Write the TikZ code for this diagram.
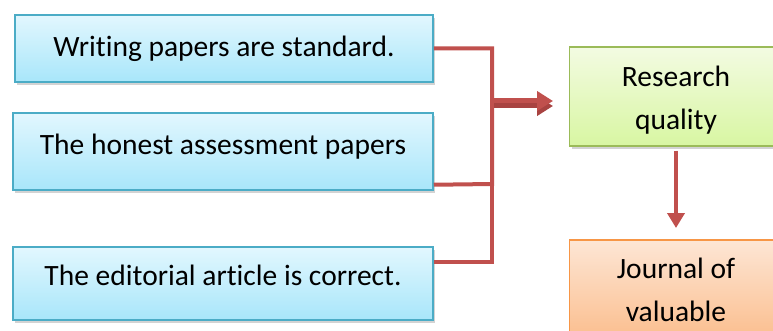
\documentclass[tikz,border=0pt]{standalone}
\usepackage{fontspec}
\setmainfont{Carlito}[Ligatures=NoCommon]
\usetikzlibrary{arrows.meta,shadows}
\definecolor{linkred}{HTML}{C0504D}
\definecolor{linkdark}{HTML}{A84341}
\definecolor{bluedraw}{HTML}{4BACC6}
\definecolor{bluetop}{HTML}{E2F7FE}
\definecolor{bluebot}{HTML}{A8E6FA}
\definecolor{greendraw}{HTML}{9BBB59}
\definecolor{greentop}{HTML}{F3FBE2}
\definecolor{greenbot}{HTML}{D8F6A2}
\definecolor{orangedraw}{HTML}{F79646}
\definecolor{orangetop}{HTML}{FDE6D5}
\definecolor{orangebot}{HTML}{FBBE8E}
\tikzset{
  box/.style={draw,line width=1.5pt,align=center,inner sep=0pt,
    font=\fontsize{29.5}{43}\selectfont,
    drop shadow={opacity=0.35,shadow xshift=2pt,shadow yshift=-3pt}},
  bluebox/.style={box,draw=bluedraw,top color=bluetop,bottom color=bluebot},
  greenbox/.style={box,draw=greendraw,top color=greentop,bottom color=greenbot},
  orangebox/.style={box,draw=orangedraw,top color=orangetop,bottom color=orangebot},
  link/.style={draw=linkred,line width=4pt},
  bigarrow/.style={link,line width=5pt,-{Triangle[length=16pt,width=19pt]}}
}
\begin{document}
\begin{tikzpicture}[x=1pt,y=-1pt]
\useasboundingbox (0,0) rectangle (773,331);
\path (224,48.5) node (standard) [bluebox,minimum width=418pt,minimum height=67pt] {Writing papers are standard.}
(223,151.5) node (honest) [bluebox,minimum width=420pt,minimum height=77pt,text depth=14pt] {The honest assessment papers}
(223,283.5) node (editorial) [bluebox,minimum width=420pt,minimum height=73pt,text depth=16pt] {The editorial article is correct.}
(676,96.5) node (quality) [greenbox,minimum width=213pt,minimum height=99pt,text height=70pt] {Research\\quality}
(676,289.5) node (journal) [orangebox,minimum width=213pt,minimum height=99pt] {Journal of\\valuable};
\coordinate (j1) at (492,184);
\coordinate (j2) at (490,263);
\coordinate (m) at (494,101);
\coordinate (tip) at (553,101);
\coordinate (down) at (676,228);
% joins from the three boxes
\draw [link] (standard.east) -| (j1) -- ([yshift=6pt]honest.south east);
\draw [link] ([yshift=3pt]j1) |- ([yshift=-16pt]editorial.north east);
% arrows
\draw [bigarrow,draw=linkdark,fill=linkdark] ([yshift=-5pt]m) -- ([yshift=-5pt]tip);
\draw [bigarrow,fill=linkred] (m) -- (tip);
\draw [link,line width=4.5pt,-{Triangle[length=15pt,width=17pt]},fill=linkred] ([yshift=-4pt]quality.south) -- (down);
\end{tikzpicture}
\end{document}
